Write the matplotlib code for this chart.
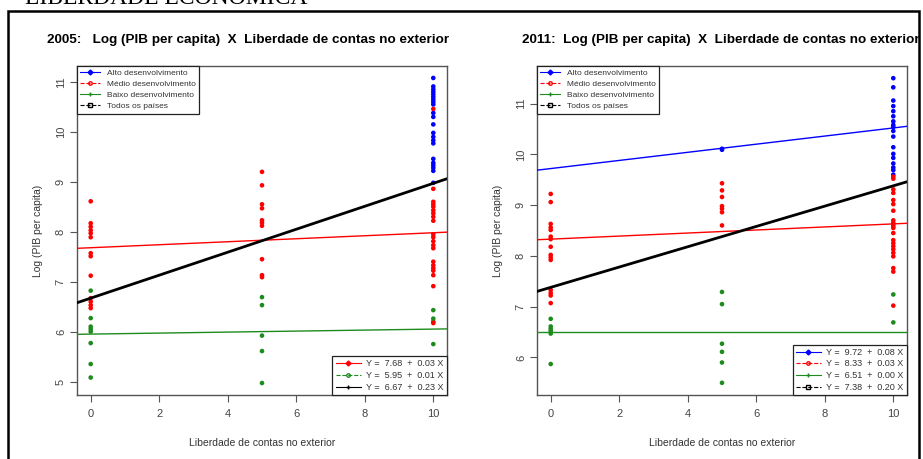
import matplotlib
matplotlib.use('Agg')
import matplotlib.pyplot as plt
from matplotlib.lines import Line2D
from matplotlib.patches import Rectangle

plt.rcParams['font.family'] = ['Liberation Sans', 'DejaVu Sans']

# Liberdade de contas no exterior (0, 5, 10) vs log do PIB per capita, por grupo
# ---- 2005 ----
alto05_x = [10] * 22
alto05_y = [11.08, 10.91, 10.85, 10.80, 10.75, 10.70, 10.65, 10.60, 10.55, 10.38, 10.30,
            10.15, 9.98, 9.90, 9.83, 9.77, 9.46, 9.38, 9.33, 9.28, 9.22, 8.98]
medio05_x = [0] * 13 + [5] * 10 + [10] * 22
medio05_y = [8.61, 8.17, 8.10, 8.03, 7.97, 7.89, 7.57, 7.51, 7.12, 6.67, 6.60, 6.53, 6.47,
             9.20, 8.93, 8.55, 8.47, 8.23, 8.18, 8.12, 7.45, 7.13, 7.09,
             10.46, 8.86, 8.60, 8.55, 8.50, 8.43, 8.37, 8.30, 8.22, 7.95, 7.89, 7.81, 7.73,
             7.67, 7.40, 7.33, 7.27, 7.22, 7.13, 6.91, 6.17, 6.20]
baixo05_x = [0] * 8 + [5] * 5 + [10] * 3
baixo05_y = [6.82, 6.27, 6.10, 6.05, 6.00, 5.77, 5.35, 5.08,
             6.69, 6.53, 5.92, 5.61, 4.97,
             6.43, 6.26, 5.75]
# coeficientes (intercepto, inclinação): médio, baixo, todos
fit05 = {'medio': (7.68, 0.03), 'baixo': (5.95, 0.01), 'todos': (6.67, 0.23)}

# ---- 2011 ----
alto11_x = [5, 5] + [10] * 18
alto11_y = [10.09, 10.11,
            11.50, 11.32, 11.06, 10.95, 10.85, 10.75, 10.65, 10.54, 10.46, 10.35, 10.14,
            10.01, 9.93, 9.82, 9.74, 9.69, 9.60, 10.58]
medio11_x = [0] * 15 + [5] * 7 + [10] * 22
medio11_y = [9.22, 9.06, 8.63, 8.56, 8.51, 8.38, 8.33, 8.18, 8.02, 7.97, 7.92, 7.33, 7.27,
             7.22, 7.07,
             9.43, 9.29, 9.16, 8.98, 8.93, 8.86, 8.60,
             9.56, 9.52, 9.31, 9.24, 9.10, 9.02, 8.89, 8.70, 8.65, 8.62, 8.58, 8.55, 8.45,
             8.31, 8.25, 8.19, 8.13, 8.06, 7.99, 7.76, 7.69, 7.02]
baixo11_x = [0] * 6 + [5] * 6 + [10] * 3
baixo11_y = [6.76, 6.61, 6.56, 6.52, 6.47, 5.87,
             7.29, 7.05, 6.27, 6.11, 5.90, 5.50,
             7.24, 6.69, 6.18]
fit11 = {'alto': (9.72, 0.08), 'medio': (8.33, 0.03), 'baixo': (6.51, 0.00), 'todos': (7.38, 0.20)}

cores = {'alto': '#0000FF', 'medio': '#FF0000', 'baixo': '#1E8B1E', 'todos': '#000000'}
nomes = {'alto': 'Alto desenvolvimento', 'medio': 'Médio desenvolvimento',
         'baixo': 'Baixo desenvolvimento', 'todos': 'Todos os países'}
# tipos de linha e símbolo alternam nas legendas
estilos = [('-', 'D'), ('--', 'o'), ('-', '+'), ('--', 's')]

W, H = 923, 459
fig = plt.figure(figsize=(W / 100, H / 100), dpi=100)

# moldura e título da seção (cortado no topo)
fig.patches.append(Rectangle((8 / W, -0.05), 911 / W, 1.05 - 11 / H, transform=fig.transFigure,
                             fill=False, edgecolor='black', linewidth=1.8))
fig.text(25 / W, 1 - 4 / H, 'LIBERDADE ECONÔMICA', family='Liberation Serif', fontsize=17,
         va='baseline', ha='left')


def handle(cor, i):
    ls, mk = estilos[i % 4]
    return Line2D([], [], color=cor, ls=ls, marker=mk, ms=2.5, lw=0.8,
                  mfc='none' if ls == '--' else cor)


def painel(ax, grupos, fits, ylim, yticks):
    for cor, xs, ys in grupos:
        ax.scatter(xs, ys, s=11, color=cor, edgecolors='none', zorder=3)
    for k, (a, b) in fits.items():
        ax.axline((0, a), slope=b, color=cores[k], lw=2.0 if k == 'todos' else 1.0, zorder=4)
    ax.set_xlim(-0.4, 10.4)
    ax.set_ylim(*ylim)
    ax.set_xticks([0, 2, 4, 6, 8, 10])
    ax.set_yticks(yticks)
    ax.tick_params(axis='y', labelrotation=90, labelsize=8, labelcolor='#444', color='#555',
                   length=5, pad=3)
    ax.tick_params(axis='x', labelsize=8, labelcolor='#444', color='#555', length=5, pad=5)
    for lbl in ax.get_yticklabels():
        lbl.set_va('center')
    for sp in ax.spines.values():
        sp.set_color('#555')
        sp.set_linewidth(1.0)
    ax.set_xlabel('Liberdade de contas no exterior', fontsize=7.5, color='#333', labelpad=14)
    ax.set_ylabel('Log (PIB per capita)', fontsize=7.5, color='#333', labelpad=9)

    # legenda dos grupos
    hs = [handle(cores[k], i) for i, k in enumerate(nomes)]
    l1 = ax.legend(hs, list(nomes.values()), loc='upper left', bbox_to_anchor=(0, 1),
                   borderaxespad=0, fontsize=6, fancybox=False, framealpha=1, edgecolor='#222',
                   handlelength=2.4, handletextpad=0.8, labelspacing=0.38, borderpad=0.4,
                   labelcolor='#333')
    l1.get_frame().set_linewidth(0.9)
    ax.add_artist(l1)

    # legenda das equações
    hs2 = [handle(cores[k], i) for i, k in enumerate(fits)]
    txt = ['Y =  %.2f  +  %.2f X' % (a, b) for a, b in fits.values()]
    l2 = ax.legend(hs2, txt, loc='lower right', bbox_to_anchor=(1, 0), borderaxespad=0,
                   fontsize=6.5, fancybox=False, framealpha=1, edgecolor='#222',
                   handlelength=2.8, handletextpad=0.6, labelspacing=0.3, borderpad=0.35,
                   labelcolor='#333')
    l2.get_frame().set_linewidth(0.9)


ax1 = fig.add_axes([77 / W, 1 - 395 / H, 370 / W, 329 / H])
painel(ax1,
       [(cores['alto'], alto05_x, alto05_y), (cores['medio'], medio05_x, medio05_y),
        (cores['baixo'], baixo05_x, baixo05_y)],
       fit05, (4.73, 11.32), [5, 6, 7, 8, 9, 10, 11])

ax2 = fig.add_axes([537 / W, 1 - 395 / H, 370 / W, 329 / H])
painel(ax2,
       [(cores['alto'], alto11_x, alto11_y), (cores['medio'], medio11_x, medio11_y),
        (cores['baixo'], baixo11_x, baixo11_y)],
       fit11, (5.26, 11.74), [6, 7, 8, 9, 10, 11])

fig.text(248 / W, 1 - 40 / H, '2005:   Log (PIB per capita)  X  Liberdade de contas no exterior',
         ha='center', va='center', fontsize=9.7, fontweight='bold')
fig.text(721 / W, 1 - 40 / H, '2011:  Log (PIB per capita)  X  Liberdade de contas no exterior',
         ha='center', va='center', fontsize=9.7, fontweight='bold')

fig.savefig('out.png', dpi=100)
